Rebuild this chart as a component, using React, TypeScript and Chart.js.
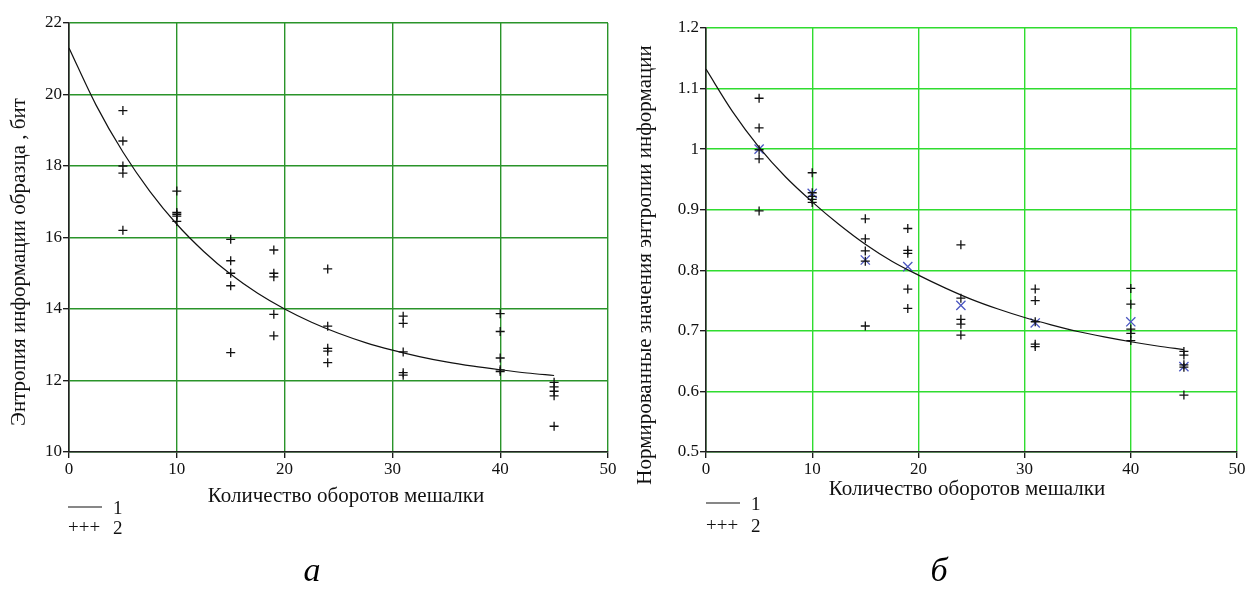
import React, { useEffect, useRef } from "react";
import { Chart, registerables } from "chart.js";

Chart.register(...registerables);

// ---------- data ----------
const xTickValues = [0, 10, 20, 30, 40, 50];
const xTickLabels = ["0", "10", "20", "30", "40", "50"];
const leftYTickValues = [10, 12, 14, 16, 18, 20, 22];
const leftYTickLabels = ["10", "12", "14", "16", "18", "20", "22"];
const rightYTickValues = [0.5, 0.6, 0.7, 0.8, 0.9, 1.0, 1.1, 1.2];
const rightYTickLabels = ["0.5", "0.6", "0.7", "0.8", "0.9", "1", "1.1", "1.2"];

const curveX = [0, 2.5, 5, 7.5, 10, 12.5, 15, 17.5, 20, 22.5, 25, 27.5, 30, 32.5, 35, 37.5, 40, 42.5, 45];
const leftCurveY = [21.3, 19.71, 18.39, 17.29, 16.37, 15.61, 14.97, 14.44, 14.0, 13.63, 13.32, 13.06, 12.85, 12.67, 12.52, 12.4, 12.3, 12.21, 12.14];
const rightCurveY = [1.132, 1.062, 1.003, 0.954, 0.913, 0.876, 0.843, 0.815, 0.792, 0.771, 0.752, 0.736, 0.722, 0.71, 0.699, 0.69, 0.682, 0.675, 0.669];

const sampleX = [5, 10, 15, 19, 24, 31, 40, 45];
const leftSamples = [
  [19.55, 18.7, 18.0, 17.8, 16.2],
  [17.3, 16.7, 16.65, 16.6, 16.45],
  [15.95, 15.35, 15.0, 14.65, 12.78],
  [15.65, 15.0, 14.9, 13.85, 13.25],
  [15.12, 13.52, 12.9, 12.82, 12.5],
  [13.8, 13.6, 12.8, 12.22, 12.15],
  [13.87, 13.37, 12.63, 12.3, 12.25],
  [11.95, 11.82, 11.7, 11.57, 10.72],
];
const rightSamples = [
  [1.084, 1.035, 0.999, 0.984, 0.898],
  [0.961, 0.928, 0.922, 0.917, 0.912],
  [0.885, 0.852, 0.832, 0.815, 0.708],
  [0.869, 0.833, 0.828, 0.769, 0.737],
  [0.842, 0.754, 0.719, 0.711, 0.693],
  [0.769, 0.75, 0.715, 0.678, 0.674],
  [0.77, 0.744, 0.703, 0.696, 0.684],
  [0.666, 0.66, 0.644, 0.64, 0.594],
];
const rightMeans = [1.0, 0.927, 0.817, 0.806, 0.742, 0.713, 0.715, 0.641];

const leftYTitle = "Энтропия информации образца , бит";
const rightYTitle = "Нормированные значения энтропии информации";
const xTitle = "Количество оборотов мешалки";
const legendLabels = ["1", "2"];
const captions = ["а", "б"];

// ---------- styling ----------
const SERIF = '"Liberation Serif", "Times New Roman", serif';

type Layout = {
  width: number;
  padTop: number;
  padRight: number;
  yWidth: number;
  xHeight: number;
  gridColor: string;
  yTitleX: number;
  yTitleY: number;
  xTitleX: number;
  xTitleY: number;
  legendX: number;
  legendY1: number;
  legendY2: number;
  captionX: number;
  captionY: number;
};

function textPlugin(L: Layout, yTitle: string, caption: string) {
  return {
    id: "extraText",
    afterDraw(chart: any) {
      const ctx = chart.ctx as CanvasRenderingContext2D;
      ctx.save();
      ctx.fillStyle = "#111";
      ctx.strokeStyle = "#111";
      // y title
      ctx.save();
      ctx.translate(L.yTitleX, L.yTitleY);
      ctx.rotate(-Math.PI / 2);
      ctx.font = `21px ${SERIF}`;
      ctx.textAlign = "center";
      ctx.textBaseline = "middle";
      ctx.fillText(yTitle, 0, 0);
      ctx.restore();
      // x title
      ctx.font = `21px ${SERIF}`;
      ctx.textAlign = "center";
      ctx.textBaseline = "middle";
      ctx.fillText(xTitle, L.xTitleX, L.xTitleY);
      // legend
      ctx.lineWidth = 1.2;
      ctx.beginPath();
      ctx.moveTo(L.legendX, L.legendY1);
      ctx.lineTo(L.legendX + 34, L.legendY1);
      ctx.stroke();
      ctx.font = `19px ${SERIF}`;
      ctx.textAlign = "left";
      ctx.fillText(legendLabels[0], L.legendX + 45, L.legendY1 + 2);
      ctx.fillText("+++", L.legendX, L.legendY2);
      ctx.fillText(legendLabels[1], L.legendX + 45, L.legendY2 + 1);
      // caption
      ctx.font = `italic 34px ${SERIF}`;
      ctx.textAlign = "center";
      ctx.fillStyle = "#000";
      ctx.fillText(caption, L.captionX, L.captionY);
      ctx.restore();
    },
  };
}

function makeConfig(
  L: Layout,
  curveY: number[],
  samples: number[][],
  means: number[] | null,
  yMin: number,
  yMax: number,
  yTicks: number[],
  yLabels: string[],
  yTitle: string,
  caption: string
): any {
  const curve = curveX.map((x, i) => ({ x, y: curveY[i] }));
  const pts: { x: number; y: number }[] = [];
  sampleX.forEach((x, i) => samples[i].forEach((y) => pts.push({ x, y })));
  const datasets: any[] = [
    {
      label: "1",
      data: curve,
      showLine: true,
      borderColor: "#111",
      borderWidth: 1.2,
      pointRadius: 0,
      cubicInterpolationMode: "monotone",
      fill: false,
    },
    {
      label: "2",
      data: pts,
      showLine: false,
      pointStyle: "cross",
      pointRadius: 4.5,
      pointHoverRadius: 4.5,
      pointBorderWidth: 1.3,
      borderColor: "#111",
      backgroundColor: "#111",
    },
  ];
  if (means) {
    datasets.push({
      label: "mean",
      data: sampleX.map((x, i) => ({ x, y: means[i] })),
      showLine: false,
      pointStyle: "crossRot",
      pointRadius: 6.5,
      pointHoverRadius: 6.5,
      pointBorderWidth: 1.3,
      borderColor: "#4a55c0",
      backgroundColor: "#4a55c0",
    });
  }
  const tickFont = { family: SERIF, size: 17 };
  return {
    type: "scatter",
    data: { datasets },
    options: {
      animation: false,
      responsive: false,
      events: [],
      layout: { padding: { top: L.padTop, right: L.padRight, left: 0, bottom: 0 } },
      plugins: { legend: { display: false }, tooltip: { enabled: false } },
      scales: {
        x: {
          type: "linear",
          min: 0,
          max: 50,
          afterBuildTicks: (s: any) => {
            s.ticks = xTickValues.map((v) => ({ value: v }));
          },
          afterFit: (s: any) => {
            s.height = L.xHeight;
          },
          grid: { color: L.gridColor, lineWidth: 1.4, tickLength: 6, tickColor: "#111", tickWidth: 1.3 },
          border: { color: "#222", width: 1.6 },
          ticks: {
            autoSkip: false,
            maxRotation: 0,
            padding: 1,
            color: "#111",
            font: tickFont,
            callback: (_v: any, i: number) => xTickLabels[i],
          },
        },
        y: {
          type: "linear",
          min: yMin,
          max: yMax,
          afterBuildTicks: (s: any) => {
            s.ticks = yTicks.map((v) => ({ value: v }));
          },
          afterFit: (s: any) => {
            s.width = L.yWidth;
          },
          grid: { color: L.gridColor, lineWidth: 1.4, tickLength: 6, tickColor: "#111", tickWidth: 1.3 },
          border: { color: "#222", width: 1.6 },
          ticks: {
            autoSkip: false,
            padding: 1,
            color: "#111",
            font: tickFont,
            callback: (_v: any, i: number) => yLabels[i],
          },
        },
      },
    },
    plugins: [textPlugin(L, yTitle, caption)],
  };
}

const leftLayout: Layout = {
  width: 620,
  padTop: 23,
  padRight: 12,
  yWidth: 69,
  xHeight: 141,
  gridColor: "#2a942a",
  yTitleX: 19,
  yTitleY: 262,
  xTitleX: 346,
  xTitleY: 496,
  legendX: 68,
  legendY1: 507,
  legendY2: 528,
  captionX: 312,
  captionY: 572,
};

const rightLayout: Layout = {
  width: 628,
  padTop: 28,
  padRight: 11,
  yWidth: 86,
  xHeight: 141,
  gridColor: "#2fdc2f",
  yTitleX: 25,
  yTitleY: 265,
  xTitleX: 347,
  xTitleY: 489,
  legendX: 86,
  legendY1: 503,
  legendY2: 526,
  captionX: 319,
  captionY: 572,
};

function ChartCanvas(props: { left: number; layout: Layout; build: () => any }) {
  const ref = useRef<HTMLCanvasElement>(null);
  useEffect(() => {
    const chart = new Chart(ref.current as HTMLCanvasElement, props.build());
    return () => chart.destroy();
  }, []);
  return (
    <canvas
      ref={ref}
      width={props.layout.width}
      height={593}
      style={{ position: "absolute", left: props.left, top: 0, width: props.layout.width, height: 593 }}
    />
  );
}

export default function App() {
  return (
    <div style={{ position: "fixed", left: 0, top: 0, width: 1248, height: 593, background: "#fff" }}>
      <ChartCanvas
        left={0}
        layout={leftLayout}
        build={() =>
          makeConfig(leftLayout, leftCurveY, leftSamples, null, 10, 22, leftYTickValues, leftYTickLabels, leftYTitle, captions[0])
        }
      />
      <ChartCanvas
        left={620}
        layout={rightLayout}
        build={() =>
          makeConfig(rightLayout, rightCurveY, rightSamples, rightMeans, 0.5, 1.2, rightYTickValues, rightYTickLabels, rightYTitle, captions[1])
        }
      />
    </div>
  );
}
